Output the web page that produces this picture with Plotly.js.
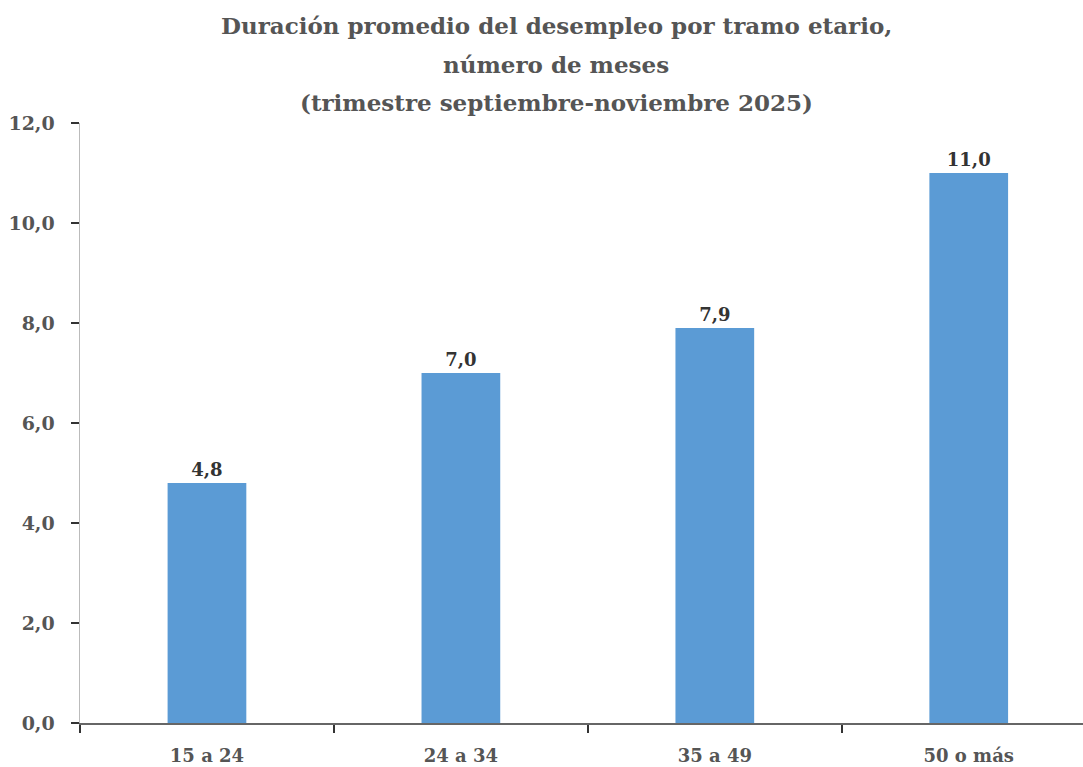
<!DOCTYPE html>
<html><head><meta charset="utf-8">
<script src="https://cdn.plot.ly/plotly-3.0.1.min.js"></script>
<style>html,body{margin:0;padding:0;background:#fff;overflow:hidden}</style>
</head><body>
<div id="chart" style="width:1083px;height:767px"></div>
<script>
const categories = ["15 a 24", "24 a 34", "35 a 49", "50 o más"];
const values = [4.8, 7.0, 7.9, 11.0];
const titleLines = ["Duración promedio del desempleo por tramo etario,", "número de meses", "(trimestre septiembre-noviembre 2025)"];
const yTicks = [0, 2, 4, 6, 8, 10, 12];

const serif = "DejaVu Serif, Liberation Serif, serif";
const trace = {
  type: "bar",
  x: categories,
  y: values,
  width: 0.31,
  marker: {color: "#5b9bd5"},
  text: values,
  texttemplate: "<b>%{y:.1f}</b>",
  textposition: "outside",
  cliponaxis: false,
  textfont: {family: serif, size: 18, color: "#333"},
  hoverinfo: "skip"
};
const titleY = [1.162, 1.098, 1.035];
const annotations = titleLines.map((t, i) => ({
  text: "<b>" + t + "</b>", xref: "paper", yref: "paper",
  x: 0.4746, y: titleY[i], xanchor: "center", yanchor: "middle",
  showarrow: false, font: {family: serif, size: 23, color: "#555"}
}));
const layout = {
  width: 1083, height: 767,
  margin: {l: 80, r: 0, t: 123, b: 44},
  paper_bgcolor: "#fff", plot_bgcolor: "#fff",
  separators: ",.",
  showlegend: false,
  annotations: annotations,
  font: {family: serif},
  xaxis: {
    type: "category", range: [-0.5, 3.45],
    tickson: "boundaries", ticks: "outside", ticklen: 8, tickwidth: 1.5, tickcolor: "#333",
    showline: true, linecolor: "#666", linewidth: 1.5,
    showgrid: false, zeroline: false,
    tickfont: {family: serif, size: 18, color: "#555", weight: "bold"},
    ticklabelstandoff: 16
  },
  yaxis: {
    range: [0, 12], tickvals: yTicks, tickformat: ".1f",
    ticks: "outside", ticklen: 8, tickwidth: 1.5, tickcolor: "#333",
    showline: true, linecolor: "#bbb", linewidth: 1.5,
    showgrid: false, zeroline: false,
    tickfont: {family: serif, size: 19, color: "#555", weight: "bold"},
    ticklabelstandoff: 12
  }
};
Plotly.newPlot("chart", [trace], layout, {displayModeBar: false, staticPlot: true});
</script>
</body></html>
